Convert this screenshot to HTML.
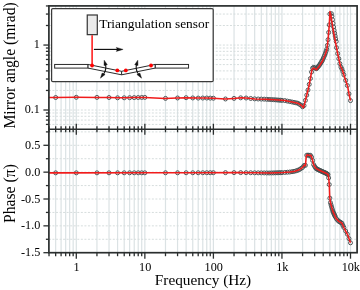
<!DOCTYPE html><html><head><meta charset="utf-8"><style>html,body{margin:0;padding:0;background:#fff;overflow:hidden}svg{display:block;will-change:transform}text{font-family:"Liberation Serif",serif;fill:#000}</style></head><body>
<svg width="360" height="290" viewBox="0 0 360 290">
<rect width="360" height="290" fill="#fff"/>
<g stroke="#dbe2e4" stroke-width="1.2"><line x1="55.66" y1="5.9" x2="55.66" y2="252.7"/><line x1="61.09" y1="5.9" x2="61.09" y2="252.7"/><line x1="65.68" y1="5.9" x2="65.68" y2="252.7"/><line x1="69.66" y1="5.9" x2="69.66" y2="252.7"/><line x1="73.16" y1="5.9" x2="73.16" y2="252.7"/><line x1="76.30" y1="5.9" x2="76.30" y2="252.7"/><line x1="96.94" y1="5.9" x2="96.94" y2="252.7"/><line x1="109.01" y1="5.9" x2="109.01" y2="252.7"/><line x1="117.57" y1="5.9" x2="117.57" y2="252.7"/><line x1="124.21" y1="5.9" x2="124.21" y2="252.7"/><line x1="129.64" y1="5.9" x2="129.64" y2="252.7"/><line x1="134.23" y1="5.9" x2="134.23" y2="252.7"/><line x1="138.21" y1="5.9" x2="138.21" y2="252.7"/><line x1="141.71" y1="5.9" x2="141.71" y2="252.7"/><line x1="144.85" y1="5.9" x2="144.85" y2="252.7"/><line x1="165.49" y1="5.9" x2="165.49" y2="252.7"/><line x1="177.56" y1="5.9" x2="177.56" y2="252.7"/><line x1="186.12" y1="5.9" x2="186.12" y2="252.7"/><line x1="192.76" y1="5.9" x2="192.76" y2="252.7"/><line x1="198.19" y1="5.9" x2="198.19" y2="252.7"/><line x1="202.78" y1="5.9" x2="202.78" y2="252.7"/><line x1="206.76" y1="5.9" x2="206.76" y2="252.7"/><line x1="210.26" y1="5.9" x2="210.26" y2="252.7"/><line x1="213.40" y1="5.9" x2="213.40" y2="252.7"/><line x1="234.04" y1="5.9" x2="234.04" y2="252.7"/><line x1="246.11" y1="5.9" x2="246.11" y2="252.7"/><line x1="254.67" y1="5.9" x2="254.67" y2="252.7"/><line x1="261.31" y1="5.9" x2="261.31" y2="252.7"/><line x1="266.74" y1="5.9" x2="266.74" y2="252.7"/><line x1="271.33" y1="5.9" x2="271.33" y2="252.7"/><line x1="275.31" y1="5.9" x2="275.31" y2="252.7"/><line x1="278.81" y1="5.9" x2="278.81" y2="252.7"/><line x1="281.95" y1="5.9" x2="281.95" y2="252.7"/><line x1="302.59" y1="5.9" x2="302.59" y2="252.7"/><line x1="314.66" y1="5.9" x2="314.66" y2="252.7"/><line x1="323.22" y1="5.9" x2="323.22" y2="252.7"/><line x1="329.86" y1="5.9" x2="329.86" y2="252.7"/><line x1="335.29" y1="5.9" x2="335.29" y2="252.7"/><line x1="339.88" y1="5.9" x2="339.88" y2="252.7"/><line x1="343.86" y1="5.9" x2="343.86" y2="252.7"/><line x1="347.36" y1="5.9" x2="347.36" y2="252.7"/><line x1="350.50" y1="5.9" x2="350.50" y2="252.7"/></g>
<g stroke="#d6dddd" stroke-width="1" stroke-dasharray="2 1.55"><line x1="48.9" y1="124.41" x2="357.1" y2="124.41"/><line x1="48.9" y1="120.06" x2="357.1" y2="120.06"/><line x1="48.9" y1="116.29" x2="357.1" y2="116.29"/><line x1="48.9" y1="112.97" x2="357.1" y2="112.97"/><line x1="48.9" y1="110.00" x2="357.1" y2="110.00"/><line x1="48.9" y1="90.45" x2="357.1" y2="90.45"/><line x1="48.9" y1="79.01" x2="357.1" y2="79.01"/><line x1="48.9" y1="70.90" x2="357.1" y2="70.90"/><line x1="48.9" y1="64.60" x2="357.1" y2="64.60"/><line x1="48.9" y1="59.46" x2="357.1" y2="59.46"/><line x1="48.9" y1="55.11" x2="357.1" y2="55.11"/><line x1="48.9" y1="51.34" x2="357.1" y2="51.34"/><line x1="48.9" y1="48.02" x2="357.1" y2="48.02"/><line x1="48.9" y1="45.05" x2="357.1" y2="45.05"/><line x1="48.9" y1="25.50" x2="357.1" y2="25.50"/><line x1="48.9" y1="14.06" x2="357.1" y2="14.06"/><line x1="48.9" y1="239.28" x2="357.1" y2="239.28"/><line x1="48.9" y1="225.85" x2="357.1" y2="225.85"/><line x1="48.9" y1="212.43" x2="357.1" y2="212.43"/><line x1="48.9" y1="199.00" x2="357.1" y2="199.00"/><line x1="48.9" y1="185.58" x2="357.1" y2="185.58"/><line x1="48.9" y1="172.15" x2="357.1" y2="172.15"/><line x1="48.9" y1="158.72" x2="357.1" y2="158.72"/><line x1="48.9" y1="145.30" x2="357.1" y2="145.30"/><line x1="48.9" y1="131.88" x2="357.1" y2="131.88"/></g>
<g fill="none" stroke="#445052" stroke-width="0.95"><circle cx="55.66" cy="97.50" r="2.0"/><circle cx="76.30" cy="97.30" r="2.0"/><circle cx="96.94" cy="97.40" r="2.0"/><circle cx="109.01" cy="97.50" r="2.0"/><circle cx="117.57" cy="97.80" r="2.0"/><circle cx="124.21" cy="97.80" r="2.0"/><circle cx="129.64" cy="97.69" r="2.0"/><circle cx="134.23" cy="97.60" r="2.0"/><circle cx="138.21" cy="97.52" r="2.0"/><circle cx="141.71" cy="97.46" r="2.0"/><circle cx="144.85" cy="97.40" r="2.0"/><circle cx="165.49" cy="98.38" r="2.0"/><circle cx="177.56" cy="97.98" r="2.0"/><circle cx="186.12" cy="97.70" r="2.0"/><circle cx="192.76" cy="97.95" r="2.0"/><circle cx="198.19" cy="98.09" r="2.0"/><circle cx="202.78" cy="98.04" r="2.0"/><circle cx="206.76" cy="98.02" r="2.0"/><circle cx="210.26" cy="98.12" r="2.0"/><circle cx="213.40" cy="98.23" r="2.0"/><circle cx="225.47" cy="98.97" r="2.0"/><circle cx="234.04" cy="98.40" r="2.0"/><circle cx="240.68" cy="97.83" r="2.0"/><circle cx="246.11" cy="98.01" r="2.0"/><circle cx="250.70" cy="98.47" r="2.0"/><circle cx="254.67" cy="98.87" r="2.0"/><circle cx="258.18" cy="99.00" r="2.0"/><circle cx="261.31" cy="99.09" r="2.0"/><circle cx="264.15" cy="99.17" r="2.0"/><circle cx="266.74" cy="99.30" r="2.0"/><circle cx="269.13" cy="99.45" r="2.0"/><circle cx="271.33" cy="99.58" r="2.0"/><circle cx="273.39" cy="99.70" r="2.0"/><circle cx="275.31" cy="99.82" r="2.0"/><circle cx="277.11" cy="99.97" r="2.0"/><circle cx="278.81" cy="100.11" r="2.0"/><circle cx="280.42" cy="100.23" r="2.0"/><circle cx="281.95" cy="100.36" r="2.0"/><circle cx="284.79" cy="100.58" r="2.0"/><circle cx="287.38" cy="101.08" r="2.0"/><circle cx="289.76" cy="101.55" r="2.0"/><circle cx="291.97" cy="101.99" r="2.0"/><circle cx="294.02" cy="102.42" r="2.0"/><circle cx="295.94" cy="102.82" r="2.0"/><circle cx="297.75" cy="103.19" r="2.0"/><circle cx="299.45" cy="104.23" r="2.0"/><circle cx="301.06" cy="105.23" r="2.0"/><circle cx="302.59" cy="106.76" r="2.0"/><circle cx="304.04" cy="105.55" r="2.0"/><circle cx="305.42" cy="100.36" r="2.0"/><circle cx="306.75" cy="95.10" r="2.0"/><circle cx="308.01" cy="89.97" r="2.0"/><circle cx="309.23" cy="84.36" r="2.0"/><circle cx="310.40" cy="78.52" r="2.0"/><circle cx="311.52" cy="72.06" r="2.0"/><circle cx="312.60" cy="68.11" r="2.0"/><circle cx="313.65" cy="67.43" r="2.0"/><circle cx="314.66" cy="67.71" r="2.0"/><circle cx="315.63" cy="68.48" r="2.0"/><circle cx="316.58" cy="68.66" r="2.0"/><circle cx="317.49" cy="67.54" r="2.0"/><circle cx="318.38" cy="66.45" r="2.0"/><circle cx="319.25" cy="65.39" r="2.0"/><circle cx="320.08" cy="64.10" r="2.0"/><circle cx="320.90" cy="62.78" r="2.0"/><circle cx="321.69" cy="61.50" r="2.0"/><circle cx="322.47" cy="60.25" r="2.0"/><circle cx="323.22" cy="58.54" r="2.0"/><circle cx="323.96" cy="56.84" r="2.0"/><circle cx="324.67" cy="55.18" r="2.0"/><circle cx="325.37" cy="53.36" r="2.0"/><circle cx="326.06" cy="51.27" r="2.0"/><circle cx="326.73" cy="49.23" r="2.0"/><circle cx="327.38" cy="45.34" r="2.0"/><circle cx="328.02" cy="39.74" r="2.0"/><circle cx="328.65" cy="32.43" r="2.0"/><circle cx="329.26" cy="24.87" r="2.0"/><circle cx="329.86" cy="14.04" r="2.0"/><circle cx="331.35" cy="13.64" r="2.0"/><circle cx="331.93" cy="16.24" r="2.0"/><circle cx="332.50" cy="19.66" r="2.0"/><circle cx="333.06" cy="23.37" r="2.0"/><circle cx="333.60" cy="27.01" r="2.0"/><circle cx="334.14" cy="30.31" r="2.0"/><circle cx="334.67" cy="33.21" r="2.0"/><circle cx="335.18" cy="36.06" r="2.0"/><circle cx="335.69" cy="38.86" r="2.0"/><circle cx="336.19" cy="41.48" r="2.0"/><circle cx="336.51" cy="47.65" r="2.0"/><circle cx="337.68" cy="53.57" r="2.0"/><circle cx="338.80" cy="58.71" r="2.0"/><circle cx="339.88" cy="63.64" r="2.0"/><circle cx="340.93" cy="67.05" r="2.0"/><circle cx="341.94" cy="69.07" r="2.0"/><circle cx="342.91" cy="71.68" r="2.0"/><circle cx="343.86" cy="74.79" r="2.0"/><circle cx="345.66" cy="80.39" r="2.0"/><circle cx="347.36" cy="85.49" r="2.0"/><circle cx="348.97" cy="93.85" r="2.0"/><circle cx="350.50" cy="100.60" r="2.0"/></g>
<path d="M48.80,97.50 L55.70,97.50 L76.30,97.30 L96.90,97.40 L109.00,97.50 L117.50,97.80 L124.00,97.80 L134.00,97.60 L144.80,97.40 L165.00,98.40 L177.00,98.00 L186.00,97.70 L197.00,98.10 L206.00,98.00 L213.00,98.20 L225.00,99.00 L234.00,98.40 L241.00,97.80 L246.00,98.00 L255.00,98.90 L265.00,99.20 L275.00,99.80 L285.00,100.60 L292.00,102.00 L297.80,103.20 L301.50,105.50 L303.40,107.70 L304.50,104.00 L306.40,96.50 L308.50,88.00 L310.40,78.50 L312.00,69.30 L314.00,68.00 L316.30,69.80 L319.40,66.00 L322.50,61.00 L325.10,55.00 L326.90,49.50 L328.00,40.00 L329.20,26.00 L330.00,11.60 L331.20,17.00 L333.00,29.00 L335.00,40.00 L337.70,53.70 L340.40,66.00 L342.40,70.00 L344.50,76.90 L347.60,86.20 L349.00,94.00 L350.50,100.60" fill="none" stroke="#f01c1c" stroke-width="1.55" stroke-linejoin="round"/>
<g fill="none" stroke="#445052" stroke-width="0.95"><circle cx="55.66" cy="172.85" r="2.0"/><circle cx="76.30" cy="172.84" r="2.0"/><circle cx="96.94" cy="172.83" r="2.0"/><circle cx="109.01" cy="172.82" r="2.0"/><circle cx="117.57" cy="172.82" r="2.0"/><circle cx="124.21" cy="172.81" r="2.0"/><circle cx="129.64" cy="172.81" r="2.0"/><circle cx="134.23" cy="172.81" r="2.0"/><circle cx="138.21" cy="172.80" r="2.0"/><circle cx="141.71" cy="172.80" r="2.0"/><circle cx="144.85" cy="172.80" r="2.0"/><circle cx="165.49" cy="172.78" r="2.0"/><circle cx="177.56" cy="172.77" r="2.0"/><circle cx="186.12" cy="172.76" r="2.0"/><circle cx="192.76" cy="172.76" r="2.0"/><circle cx="198.19" cy="172.75" r="2.0"/><circle cx="202.78" cy="172.74" r="2.0"/><circle cx="206.76" cy="172.72" r="2.0"/><circle cx="210.26" cy="172.71" r="2.0"/><circle cx="213.40" cy="172.70" r="2.0"/><circle cx="225.47" cy="172.65" r="2.0"/><circle cx="234.04" cy="172.62" r="2.0"/><circle cx="240.68" cy="172.61" r="2.0"/><circle cx="246.11" cy="172.68" r="2.0"/><circle cx="250.70" cy="172.74" r="2.0"/><circle cx="254.67" cy="172.80" r="2.0"/><circle cx="258.18" cy="172.84" r="2.0"/><circle cx="261.31" cy="172.88" r="2.0"/><circle cx="264.15" cy="172.92" r="2.0"/><circle cx="266.74" cy="172.96" r="2.0"/><circle cx="269.13" cy="172.99" r="2.0"/><circle cx="271.33" cy="172.96" r="2.0"/><circle cx="273.39" cy="172.90" r="2.0"/><circle cx="275.31" cy="172.84" r="2.0"/><circle cx="277.11" cy="172.78" r="2.0"/><circle cx="278.81" cy="172.73" r="2.0"/><circle cx="280.42" cy="172.68" r="2.0"/><circle cx="281.95" cy="172.63" r="2.0"/><circle cx="284.79" cy="172.45" r="2.0"/><circle cx="287.38" cy="172.22" r="2.0"/><circle cx="289.76" cy="172.02" r="2.0"/><circle cx="291.97" cy="171.69" r="2.0"/><circle cx="294.02" cy="171.36" r="2.0"/><circle cx="295.94" cy="170.88" r="2.0"/><circle cx="297.75" cy="170.26" r="2.0"/><circle cx="299.45" cy="169.56" r="2.0"/><circle cx="301.06" cy="168.46" r="2.0"/><circle cx="302.59" cy="167.41" r="2.0"/><circle cx="304.04" cy="165.48" r="2.0"/><circle cx="305.42" cy="165.35" r="2.0"/><circle cx="306.75" cy="155.27" r="2.0"/><circle cx="308.01" cy="155.08" r="2.0"/><circle cx="309.23" cy="155.38" r="2.0"/><circle cx="310.40" cy="155.32" r="2.0"/><circle cx="311.52" cy="156.97" r="2.0"/><circle cx="312.60" cy="160.47" r="2.0"/><circle cx="313.65" cy="164.68" r="2.0"/><circle cx="314.66" cy="166.41" r="2.0"/><circle cx="315.63" cy="168.08" r="2.0"/><circle cx="316.58" cy="168.72" r="2.0"/><circle cx="317.49" cy="169.26" r="2.0"/><circle cx="318.38" cy="169.79" r="2.0"/><circle cx="319.25" cy="170.18" r="2.0"/><circle cx="320.08" cy="170.56" r="2.0"/><circle cx="320.90" cy="170.93" r="2.0"/><circle cx="321.69" cy="171.29" r="2.0"/><circle cx="322.47" cy="171.64" r="2.0"/><circle cx="323.22" cy="171.97" r="2.0"/><circle cx="323.96" cy="172.30" r="2.0"/><circle cx="324.67" cy="172.61" r="2.0"/><circle cx="325.37" cy="172.92" r="2.0"/><circle cx="326.06" cy="173.24" r="2.0"/><circle cx="326.73" cy="173.69" r="2.0"/><circle cx="327.38" cy="174.12" r="2.0"/><circle cx="328.02" cy="174.55" r="2.0"/><circle cx="328.65" cy="177.89" r="2.0"/><circle cx="329.26" cy="184.54" r="2.0"/><circle cx="329.86" cy="198.15" r="2.0"/><circle cx="330.45" cy="202.65" r="2.0"/><circle cx="331.03" cy="204.86" r="2.0"/><circle cx="331.60" cy="206.85" r="2.0"/><circle cx="332.16" cy="208.79" r="2.0"/><circle cx="332.70" cy="210.71" r="2.0"/><circle cx="333.24" cy="212.16" r="2.0"/><circle cx="333.77" cy="213.35" r="2.0"/><circle cx="334.28" cy="214.52" r="2.0"/><circle cx="334.79" cy="215.67" r="2.0"/><circle cx="335.29" cy="216.80" r="2.0"/><circle cx="336.51" cy="218.93" r="2.0"/><circle cx="337.68" cy="220.13" r="2.0"/><circle cx="338.80" cy="221.30" r="2.0"/><circle cx="339.88" cy="221.94" r="2.0"/><circle cx="340.93" cy="222.52" r="2.0"/><circle cx="341.94" cy="223.30" r="2.0"/><circle cx="342.91" cy="225.45" r="2.0"/><circle cx="343.86" cy="227.54" r="2.0"/><circle cx="345.66" cy="231.04" r="2.0"/><circle cx="347.36" cy="234.23" r="2.0"/><circle cx="348.97" cy="238.61" r="2.0"/><circle cx="350.50" cy="242.80" r="2.0"/></g>
<path d="M48.80,172.85 L55.70,172.85 L145.00,172.80 L200.00,172.75 L240.00,172.60 L255.00,172.80 L270.00,173.00 L283.00,172.60 L290.00,172.00 L295.00,171.20 L299.10,169.80 L302.60,167.40 L304.40,165.00 L305.40,165.60 L306.30,156.00 L307.10,154.70 L308.80,155.40 L310.90,155.30 L312.20,158.80 L313.60,164.60 L315.70,168.20 L318.40,169.80 L322.60,171.70 L326.00,173.20 L328.10,174.60 L328.80,178.80 L329.30,185.00 L329.70,196.90 L330.50,203.00 L332.90,211.40 L336.00,218.40 L338.90,221.40 L341.80,223.00 L344.20,228.30 L347.40,234.30 L350.50,242.80" fill="none" stroke="#f01c1c" stroke-width="1.55" stroke-linejoin="round"/>
<g stroke="#2a2e2e" stroke-width="1.3"><line x1="49.02" y1="252.7" x2="49.02" y2="256.20"/><line x1="49.02" y1="126.25" x2="49.02" y2="132.25"/><line x1="55.66" y1="252.7" x2="55.66" y2="256.20"/><line x1="55.66" y1="126.25" x2="55.66" y2="132.25"/><line x1="61.09" y1="252.7" x2="61.09" y2="256.20"/><line x1="61.09" y1="126.25" x2="61.09" y2="132.25"/><line x1="65.68" y1="252.7" x2="65.68" y2="256.20"/><line x1="65.68" y1="126.25" x2="65.68" y2="132.25"/><line x1="69.66" y1="252.7" x2="69.66" y2="256.20"/><line x1="69.66" y1="126.25" x2="69.66" y2="132.25"/><line x1="73.16" y1="252.7" x2="73.16" y2="256.20"/><line x1="73.16" y1="126.25" x2="73.16" y2="132.25"/><line x1="76.30" y1="252.7" x2="76.30" y2="258.70"/><line x1="76.30" y1="123.75" x2="76.30" y2="134.75"/><line x1="96.94" y1="252.7" x2="96.94" y2="256.20"/><line x1="96.94" y1="126.25" x2="96.94" y2="132.25"/><line x1="109.01" y1="252.7" x2="109.01" y2="256.20"/><line x1="109.01" y1="126.25" x2="109.01" y2="132.25"/><line x1="117.57" y1="252.7" x2="117.57" y2="256.20"/><line x1="117.57" y1="126.25" x2="117.57" y2="132.25"/><line x1="124.21" y1="252.7" x2="124.21" y2="256.20"/><line x1="124.21" y1="126.25" x2="124.21" y2="132.25"/><line x1="129.64" y1="252.7" x2="129.64" y2="256.20"/><line x1="129.64" y1="126.25" x2="129.64" y2="132.25"/><line x1="134.23" y1="252.7" x2="134.23" y2="256.20"/><line x1="134.23" y1="126.25" x2="134.23" y2="132.25"/><line x1="138.21" y1="252.7" x2="138.21" y2="256.20"/><line x1="138.21" y1="126.25" x2="138.21" y2="132.25"/><line x1="141.71" y1="252.7" x2="141.71" y2="256.20"/><line x1="141.71" y1="126.25" x2="141.71" y2="132.25"/><line x1="144.85" y1="252.7" x2="144.85" y2="258.70"/><line x1="144.85" y1="123.75" x2="144.85" y2="134.75"/><line x1="165.49" y1="252.7" x2="165.49" y2="256.20"/><line x1="165.49" y1="126.25" x2="165.49" y2="132.25"/><line x1="177.56" y1="252.7" x2="177.56" y2="256.20"/><line x1="177.56" y1="126.25" x2="177.56" y2="132.25"/><line x1="186.12" y1="252.7" x2="186.12" y2="256.20"/><line x1="186.12" y1="126.25" x2="186.12" y2="132.25"/><line x1="192.76" y1="252.7" x2="192.76" y2="256.20"/><line x1="192.76" y1="126.25" x2="192.76" y2="132.25"/><line x1="198.19" y1="252.7" x2="198.19" y2="256.20"/><line x1="198.19" y1="126.25" x2="198.19" y2="132.25"/><line x1="202.78" y1="252.7" x2="202.78" y2="256.20"/><line x1="202.78" y1="126.25" x2="202.78" y2="132.25"/><line x1="206.76" y1="252.7" x2="206.76" y2="256.20"/><line x1="206.76" y1="126.25" x2="206.76" y2="132.25"/><line x1="210.26" y1="252.7" x2="210.26" y2="256.20"/><line x1="210.26" y1="126.25" x2="210.26" y2="132.25"/><line x1="213.40" y1="252.7" x2="213.40" y2="258.70"/><line x1="213.40" y1="123.75" x2="213.40" y2="134.75"/><line x1="234.04" y1="252.7" x2="234.04" y2="256.20"/><line x1="234.04" y1="126.25" x2="234.04" y2="132.25"/><line x1="246.11" y1="252.7" x2="246.11" y2="256.20"/><line x1="246.11" y1="126.25" x2="246.11" y2="132.25"/><line x1="254.67" y1="252.7" x2="254.67" y2="256.20"/><line x1="254.67" y1="126.25" x2="254.67" y2="132.25"/><line x1="261.31" y1="252.7" x2="261.31" y2="256.20"/><line x1="261.31" y1="126.25" x2="261.31" y2="132.25"/><line x1="266.74" y1="252.7" x2="266.74" y2="256.20"/><line x1="266.74" y1="126.25" x2="266.74" y2="132.25"/><line x1="271.33" y1="252.7" x2="271.33" y2="256.20"/><line x1="271.33" y1="126.25" x2="271.33" y2="132.25"/><line x1="275.31" y1="252.7" x2="275.31" y2="256.20"/><line x1="275.31" y1="126.25" x2="275.31" y2="132.25"/><line x1="278.81" y1="252.7" x2="278.81" y2="256.20"/><line x1="278.81" y1="126.25" x2="278.81" y2="132.25"/><line x1="281.95" y1="252.7" x2="281.95" y2="258.70"/><line x1="281.95" y1="123.75" x2="281.95" y2="134.75"/><line x1="302.59" y1="252.7" x2="302.59" y2="256.20"/><line x1="302.59" y1="126.25" x2="302.59" y2="132.25"/><line x1="314.66" y1="252.7" x2="314.66" y2="256.20"/><line x1="314.66" y1="126.25" x2="314.66" y2="132.25"/><line x1="323.22" y1="252.7" x2="323.22" y2="256.20"/><line x1="323.22" y1="126.25" x2="323.22" y2="132.25"/><line x1="329.86" y1="252.7" x2="329.86" y2="256.20"/><line x1="329.86" y1="126.25" x2="329.86" y2="132.25"/><line x1="335.29" y1="252.7" x2="335.29" y2="256.20"/><line x1="335.29" y1="126.25" x2="335.29" y2="132.25"/><line x1="339.88" y1="252.7" x2="339.88" y2="256.20"/><line x1="339.88" y1="126.25" x2="339.88" y2="132.25"/><line x1="343.86" y1="252.7" x2="343.86" y2="256.20"/><line x1="343.86" y1="126.25" x2="343.86" y2="132.25"/><line x1="347.36" y1="252.7" x2="347.36" y2="256.20"/><line x1="347.36" y1="126.25" x2="347.36" y2="132.25"/><line x1="350.50" y1="252.7" x2="350.50" y2="258.70"/><line x1="350.50" y1="123.75" x2="350.50" y2="134.75"/><line x1="45.90" y1="124.41" x2="48.9" y2="124.41"/><line x1="45.90" y1="120.06" x2="48.9" y2="120.06"/><line x1="45.90" y1="116.29" x2="48.9" y2="116.29"/><line x1="45.90" y1="112.97" x2="48.9" y2="112.97"/><line x1="43.40" y1="110.00" x2="48.9" y2="110.00"/><line x1="45.90" y1="90.45" x2="48.9" y2="90.45"/><line x1="45.90" y1="79.01" x2="48.9" y2="79.01"/><line x1="45.90" y1="70.90" x2="48.9" y2="70.90"/><line x1="45.90" y1="64.60" x2="48.9" y2="64.60"/><line x1="45.90" y1="59.46" x2="48.9" y2="59.46"/><line x1="45.90" y1="55.11" x2="48.9" y2="55.11"/><line x1="45.90" y1="51.34" x2="48.9" y2="51.34"/><line x1="45.90" y1="48.02" x2="48.9" y2="48.02"/><line x1="43.40" y1="45.05" x2="48.9" y2="45.05"/><line x1="45.90" y1="25.50" x2="48.9" y2="25.50"/><line x1="45.90" y1="14.06" x2="48.9" y2="14.06"/><line x1="45.90" y1="5.95" x2="48.9" y2="5.95"/><line x1="43.40" y1="252.70" x2="48.9" y2="252.70"/><line x1="45.90" y1="239.28" x2="48.9" y2="239.28"/><line x1="43.40" y1="225.85" x2="48.9" y2="225.85"/><line x1="45.90" y1="212.43" x2="48.9" y2="212.43"/><line x1="43.40" y1="199.00" x2="48.9" y2="199.00"/><line x1="45.90" y1="185.58" x2="48.9" y2="185.58"/><line x1="43.40" y1="172.15" x2="48.9" y2="172.15"/><line x1="45.90" y1="158.72" x2="48.9" y2="158.72"/><line x1="43.40" y1="145.30" x2="48.9" y2="145.30"/><line x1="45.90" y1="131.88" x2="48.9" y2="131.88"/></g>
<g stroke="#2a2e2e" stroke-width="1.7" fill="none"><rect x="48.9" y="5.9" width="308.20" height="246.80"/><line x1="48.9" y1="129.25" x2="357.1" y2="129.25"/></g>
<rect x="51.6" y="8.5" width="161.6" height="73.2" rx="1.2" fill="#fff" stroke="#3a3a3a" stroke-width="1.25"/><rect x="87.25" y="15.0" width="10.05" height="19.65" fill="#ebebeb" stroke="#333" stroke-width="1.2"/><text x="99.2" y="27.9" font-size="13.4">Triangulation sensor</text><line x1="92.1" y1="35.2" x2="92.1" y2="65" stroke="#ff0000" stroke-width="1.4"/><line x1="93.9" y1="49.4" x2="118" y2="49.4" stroke="#111" stroke-width="1.15"/><path d="M123.1,49.4 L116.3,47.4 L117.3,49.4 L116.3,51.4 Z" fill="#111" stroke="#111" stroke-width="0.4" stroke-linejoin="round"/><rect x="54.65" y="64.45" width="33.4" height="3.65" fill="#fff" stroke="#2a2a2a" stroke-width="1"/><rect x="155.15" y="64.45" width="33.4" height="3.65" fill="#fff" stroke="#2a2a2a" stroke-width="1"/><path d="M88.05,64.45 L121.6,71.3 L121.6,74.8 L88.05,68.1 Z" fill="#fff" stroke="#2a2a2a" stroke-width="1" stroke-linejoin="round"/><path d="M155.15,64.45 L121.6,71.3 L121.6,74.8 L155.15,68.1 Z" fill="#fff" stroke="#2a2a2a" stroke-width="1" stroke-linejoin="round"/><path d="M105.60,64.80 Q106.60,69.50 103.60,74.00" fill="none" stroke="#111" stroke-width="1.1"/><path d="M104.20,60.20 L104.00,65.60 L107.30,64.70 Z" fill="#111" stroke="#111" stroke-width="0.4" stroke-linejoin="round"/><path d="M100.40,78.20 L102.10,73.10 L105.10,74.50 Z" fill="#111" stroke="#111" stroke-width="0.4" stroke-linejoin="round"/><path d="M136.40,64.80 Q135.40,69.50 138.40,74.00" fill="none" stroke="#111" stroke-width="1.1"/><path d="M137.80,60.20 L138.00,65.60 L134.70,64.70 Z" fill="#111" stroke="#111" stroke-width="0.4" stroke-linejoin="round"/><path d="M141.60,78.20 L139.90,73.10 L136.90,74.50 Z" fill="#111" stroke="#111" stroke-width="0.4" stroke-linejoin="round"/><circle cx="92.1" cy="65.5" r="1.9" fill="#ff0000"/><circle cx="117.3" cy="70.4" r="1.9" fill="#ff0000"/><circle cx="125.8" cy="70.4" r="1.9" fill="#ff0000"/><circle cx="151.0" cy="65.5" r="1.9" fill="#ff0000"/>
<text transform="translate(39.90,48.25) scale(0.94,1)" font-size="13" text-anchor="end">1</text><text transform="translate(39.90,113.20) scale(0.94,1)" font-size="13" text-anchor="end">0.1</text><text transform="translate(40.30,148.80) scale(0.94,1)" font-size="13" text-anchor="end">0.5</text><text transform="translate(40.30,175.65) scale(0.94,1)" font-size="13" text-anchor="end">0.0</text><text transform="translate(40.30,202.50) scale(0.94,1)" font-size="13" text-anchor="end">-0.5</text><text transform="translate(40.30,229.35) scale(0.94,1)" font-size="13" text-anchor="end">-1.0</text><text transform="translate(40.30,256.20) scale(0.94,1)" font-size="13" text-anchor="end">-1.5</text><text transform="translate(76.60,270.80) scale(0.94,1)" font-size="13" text-anchor="middle">1</text><text transform="translate(145.15,270.80) scale(0.94,1)" font-size="13" text-anchor="middle">10</text><text transform="translate(213.70,270.80) scale(0.94,1)" font-size="13" text-anchor="middle">100</text><text transform="translate(282.25,270.80) scale(0.94,1)" font-size="13" text-anchor="middle">1k</text><text transform="translate(350.80,270.80) scale(0.94,1)" font-size="13" text-anchor="middle">10k</text><text x="203" y="284.7" font-size="15.3" text-anchor="middle">Frequency (Hz)</text><text transform="translate(14.6,65.45) rotate(-90)" font-size="15.7" text-anchor="middle">Mirror angle (mrad)</text><text transform="translate(14.6,193.6) rotate(-90)" font-size="15.7" text-anchor="middle">Phase (π)</text>
</svg></body></html>
